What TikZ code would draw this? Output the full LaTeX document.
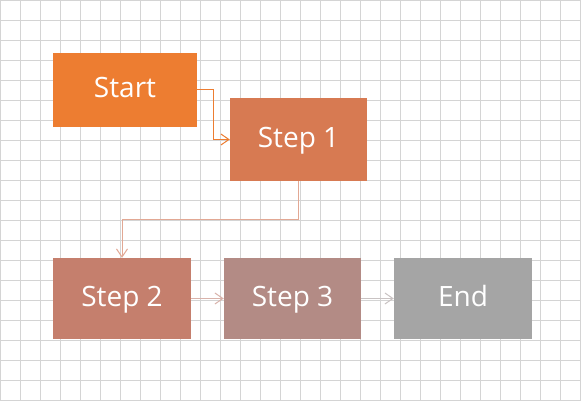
\documentclass[tikz,border=0pt]{standalone}
\usepackage{fontspec}
\setmainfont{Open Sans}
\usetikzlibrary{arrows.meta}
\definecolor{startorange}{HTML}{ED7D31}
\definecolor{stepone}{HTML}{D77A52}
\definecolor{steptwo}{HTML}{C57F6D}
\definecolor{stepthree}{HTML}{B38B85}
\definecolor{endgrey}{HTML}{A5A5A5}
\definecolor{gridgrey}{HTML}{D4D4D4}
\definecolor{linkone}{HTML}{E2A894}
\definecolor{linktwo}{HTML}{D9B3AB}
\definecolor{linkthree}{HTML}{C9C3C3}
\tikzset{
  base/.style={font=\fontsize{28}{32}\selectfont, text=white, inner sep=0pt, text height=20pt, text depth=5pt},
  box/.style={base, rectangle, minimum width=138pt, minimum height=81pt},
  arr/.style={-{Straight Barb[length=8pt,width=11pt]}, line width=1pt},
  gridline/.style={draw=gridgrey, line width=0.8pt},
}
\begin{document}
\begin{tikzpicture}[x=1pt,y=-1pt]
  \useasboundingbox (0,0) rectangle (581,401);
  \fill[white] (0,0) rectangle (581,401);
  % background grid
  \foreach \gx in {0,20,...,580}{\draw[gridline] (\gx+0.5,0) -- (\gx+0.5,401);}
  \foreach \gy in {0,20,...,400}{\draw[gridline] (0,\gy+0.5) -- (581,\gy+0.5);}
  \node[box,fill=startorange,minimum width=144pt,minimum height=74pt] (start) at (125,90) {Start};
  \node[box,fill=stepone,minimum width=137pt,minimum height=83pt] (step1) at (298.5,139.5) {Step 1};
  \node[box,fill=steptwo] (step2) at (122,298.5) {Step 2};
  \node[box,fill=stepthree,minimum width=137pt] (step3) at (292.5,298.5) {Step 3};
  \node[box,fill=endgrey] (end) at (463,298.5) {End};
  \draw[arr,draw=startorange] (start.east) -- ++(16,0) |- (step1.west);
  \draw[arr,draw=linkone] (step1.south) -- ++(0,38) -| (step2.north);
  \draw[arr,draw=linktwo] (step2) -- (step3);
  \draw[arr,draw=linkthree] (step3) -- (end);
\end{tikzpicture}
\end{document}
